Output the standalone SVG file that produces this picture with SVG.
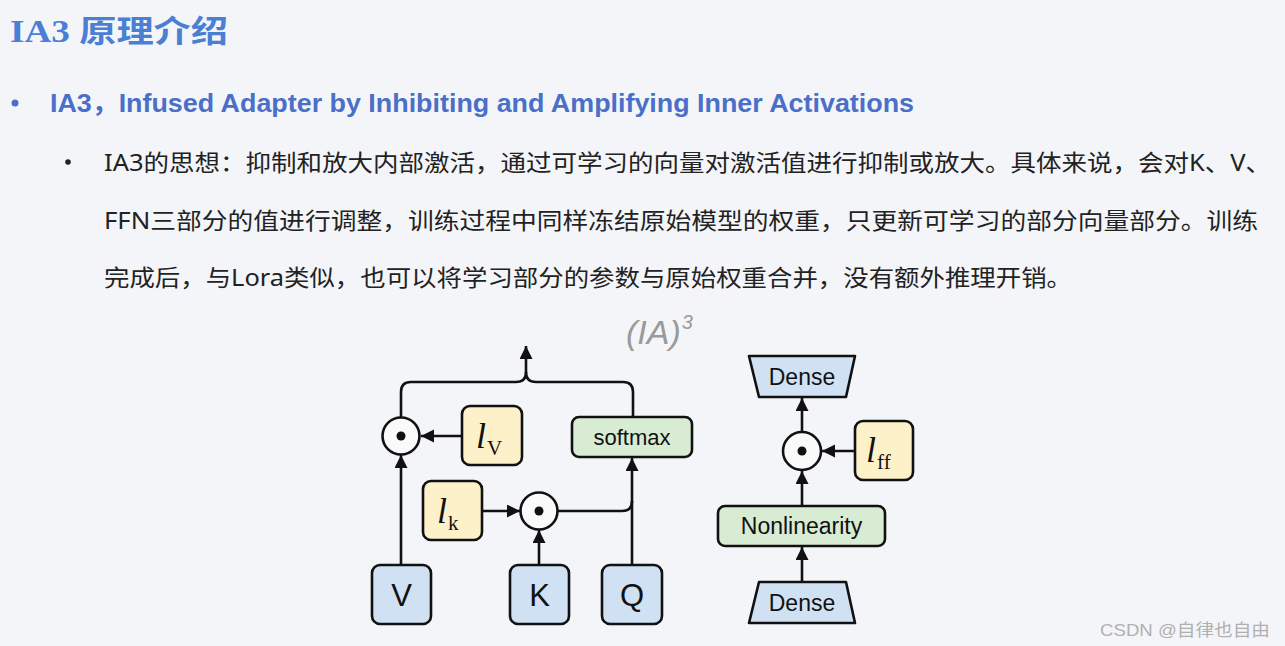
<svg xmlns="http://www.w3.org/2000/svg" width="1285" height="646" viewBox="0 0 1285 646">
<defs>
<marker id="ah" markerUnits="userSpaceOnUse" markerWidth="16" markerHeight="14" refX="13" refY="6.5" orient="auto">
<path d="M0,0 L13,6.5 L0,13 Z" fill="#111"/>
</marker>
</defs>
<style>
.ln{fill:none;stroke:#111;stroke-width:2.6}
.blue{fill:#cfe1f3;stroke:#111;stroke-width:2.6}
.yel{fill:#fdf1c9;stroke:#111;stroke-width:2.6}
.grn{fill:#d8ebd3;stroke:#111;stroke-width:2.6}
.circ{fill:#fafafa;stroke:#111;stroke-width:2.6}
.sans{font-family:"Liberation Sans","Noto Sans",sans-serif;fill:#111}
.math{font-family:"Liberation Serif","DejaVu Serif",serif;fill:#111}
.body{font-family:"Noto Sans","Noto Sans CJK SC",sans-serif;font-size:23px;fill:#222}
</style>
<rect width="1285" height="646" fill="#f4f5f9"/>
<g id="title">
<text x="10" y="42" font-family="Liberation Serif,Noto Sans CJK SC,serif" font-weight="bold" font-size="31" fill="#4a7fd4" textLength="218" lengthAdjust="spacingAndGlyphs">IA3 原理介绍</text>
</g>
<g id="heading">
<circle cx="15" cy="103" r="3.5" fill="#4a6fc9"/>
<text x="50" y="112" font-family="Liberation Sans,Noto Sans CJK SC,sans-serif" font-weight="bold" font-size="25.5" fill="#4a6fc9" textLength="864" lengthAdjust="spacingAndGlyphs">IA3，Infused Adapter by Inhibiting and Amplifying Inner Activations</text>
</g>
<g id="body">
<circle cx="68" cy="162" r="2.8" fill="#222"/>
<text class="body" x="104" y="171" textLength="1167" lengthAdjust="spacingAndGlyphs">IA3的思想：抑制和放大内部激活，通过可学习的向量对激活值进行抑制或放大。具体来说，会对K、V、</text>
<text class="body" x="104" y="229" textLength="1154" lengthAdjust="spacingAndGlyphs">FFN三部分的值进行调整，训练过程中同样冻结原始模型的权重，只更新可学习的部分向量部分。训练</text>
<text class="body" x="104" y="286" textLength="968" lengthAdjust="spacingAndGlyphs">完成后，与Lora类似，也可以将学习部分的参数与原始权重合并，没有额外推理开销。</text>
</g>
<g id="ia3-label">
<text x="626" y="344" font-family="Liberation Sans,sans-serif" font-style="italic" font-size="34" fill="#9a9a9a">(IA)<tspan font-size="20" dy="-15" dx="1">3</tspan></text>
</g>
<g id="connectors">
<path class="ln" d="M401,418 V392 Q401,382 411,382 H516 Q526,382 526,372 Q526,382 536,382 H623 Q633,382 633,392 V417"/>
<path class="ln" d="M526,373 V346" marker-end="url(#ah)"/>
<path class="ln" d="M462,436 H421" marker-end="url(#ah)"/>
<path class="ln" d="M401,565 V455" marker-end="url(#ah)"/>
<path class="ln" d="M482,511 H520" marker-end="url(#ah)"/>
<path class="ln" d="M539,565 V530" marker-end="url(#ah)"/>
<path class="ln" d="M632,565 V458" marker-end="url(#ah)"/>
<path class="ln" d="M558,511 H622 Q632,511 632,501"/>
<path class="ln" d="M802,582 V547" marker-end="url(#ah)"/>
<path class="ln" d="M802,506 V471" marker-end="url(#ah)"/>
<path class="ln" d="M802,432 V398" marker-end="url(#ah)"/>
<path class="ln" d="M855,451 H822" marker-end="url(#ah)"/>
</g>
<g id="mul-v">
<circle class="circ" cx="401" cy="436" r="18.5"/>
<circle cx="401" cy="436" r="4.5" fill="#111"/>
</g>
<g id="lv">
<rect class="yel" x="462" y="406" width="60" height="59" rx="8"/>
<text class="math" x="476" y="448" font-size="36" font-style="italic">l<tspan font-size="21" font-style="normal" dy="7" dx="1">V</tspan></text>
</g>
<g id="softmax">
<rect class="grn" x="572" y="417" width="120" height="40" rx="7"/>
<text class="sans" x="632" y="445" font-size="22" text-anchor="middle">softmax</text>
</g>
<g id="lk">
<rect class="yel" x="423" y="481" width="59" height="59" rx="8"/>
<text class="math" x="437" y="523" font-size="36" font-style="italic">l<tspan font-size="21" font-style="normal" dy="7" dx="1">k</tspan></text>
</g>
<g id="mul-k">
<circle class="circ" cx="539" cy="511" r="18.5"/>
<circle cx="539" cy="511" r="4.5" fill="#111"/>
</g>
<g id="V">
<rect class="blue" x="372" y="565" width="59" height="59" rx="8"/>
<text class="sans" x="401.5" y="606" font-size="31" text-anchor="middle">V</text>
</g>
<g id="K">
<rect class="blue" x="510" y="565" width="59" height="59" rx="8"/>
<text class="sans" x="539.5" y="606" font-size="31" text-anchor="middle">K</text>
</g>
<g id="Q">
<rect class="blue" x="602" y="565" width="60" height="59" rx="8"/>
<text class="sans" x="632" y="606" font-size="31" text-anchor="middle">Q</text>
</g>
<g id="dense-top">
<polygon class="blue" points="749,356 855,356 846,397 759,397" stroke-linejoin="round"/>
<text class="sans" x="802" y="385" font-size="23" text-anchor="middle">Dense</text>
</g>
<g id="mul-ff">
<circle class="circ" cx="802" cy="451" r="19"/>
<circle cx="802" cy="451" r="4.5" fill="#111"/>
</g>
<g id="lff">
<rect class="yel" x="855" y="421" width="58" height="59" rx="8"/>
<text class="math" x="866" y="462" font-size="36" font-style="italic">l<tspan font-size="21" font-style="normal" dy="7" dx="1">ff</tspan></text>
</g>
<g id="nonlinearity">
<rect class="grn" x="718" y="506" width="167" height="40" rx="7"/>
<text class="sans" x="801.5" y="534" font-size="23" text-anchor="middle">Nonlinearity</text>
</g>
<g id="dense-bottom">
<polygon class="blue" points="759,582 846,582 855,623 749,623" stroke-linejoin="round"/>
<text class="sans" x="802" y="611" font-size="23" text-anchor="middle">Dense</text>
</g>
<g id="watermark">
<text x="1100" y="636" font-family="Liberation Sans,Noto Sans CJK SC,sans-serif" font-size="17" fill="#b0b0b0" textLength="170" lengthAdjust="spacingAndGlyphs">CSDN @自律也自由</text>
</g>
</svg>
